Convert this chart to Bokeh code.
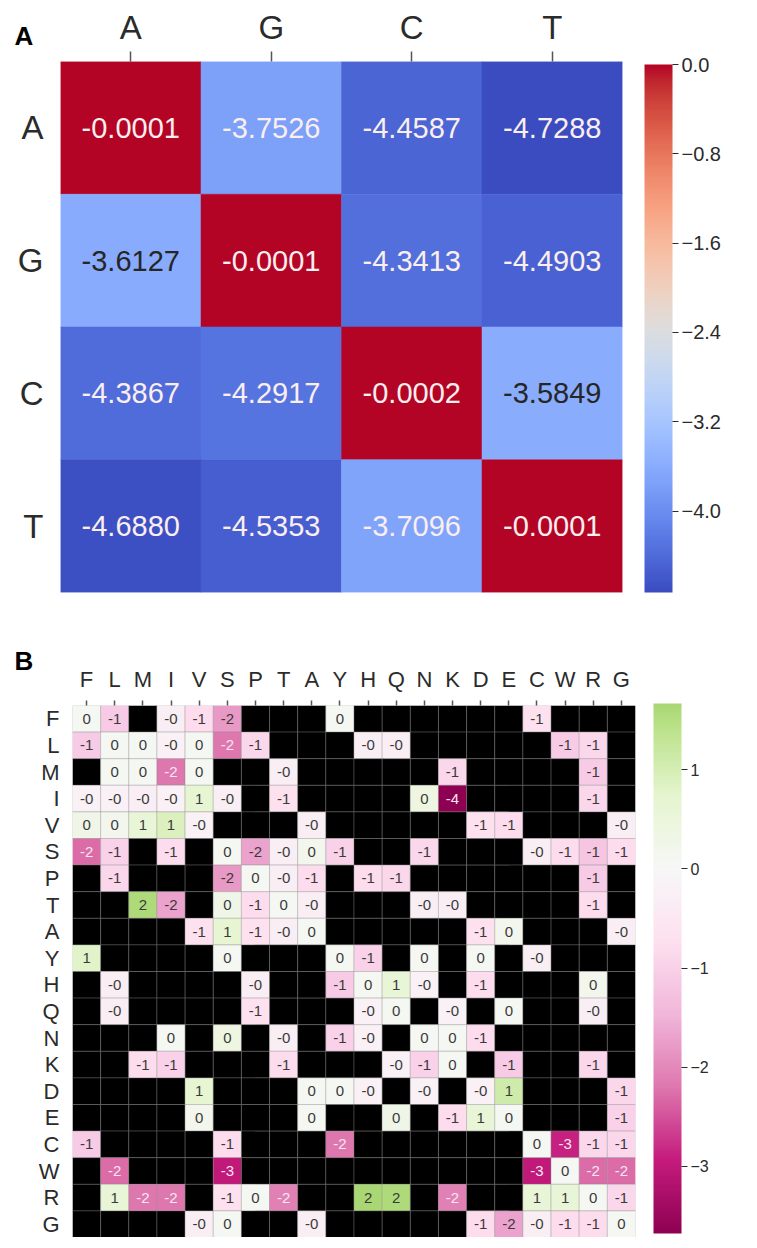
import numpy as np
from bokeh.plotting import figure
from bokeh.models import (ColumnDataSource, FactorRange, LinearColorMapper, ColorBar,
                          FixedTicker, CustomJSTickFormatter, Label, AllLabels)
from bokeh.transform import transform
from bokeh.embed import file_html
from bokeh.resources import INLINE
from bokeh.core.properties import value

# ---------------- data ----------------
nuc = ["A", "G", "C", "T"]
nuc_values = [
    [-0.0001, -3.7526, -4.4587, -4.7288],
    [-3.6127, -0.0001, -4.3413, -4.4903],
    [-4.3867, -4.2917, -0.0002, -3.5849],
    [-4.6880, -4.5353, -3.7096, -0.0001],
]
nuc_ticks = [0.0, -0.8, -1.6, -2.4, -3.2, -4.0]

aa = ["F", "L", "M", "I", "V", "S", "P", "T", "A", "Y",
      "H", "Q", "N", "K", "D", "E", "C", "W", "R", "G"]
N = np.nan
aa_values = [
    [0.1, -1.1, N, -0.3, -0.8, -1.8, N, N, N, 0.1, N, N, N, N, N, N, -0.7, N, N, N],          # F
    [-1.1, 0.1, 0.1, -0.2, 0.1, -2.2, -0.9, N, N, N, -0.3, -0.3, N, N, N, N, N, -1.1, -0.9, N],  # L
    [N, 0.1, 0.1, -2.2, 0.1, N, N, -0.3, N, N, N, N, N, -0.9, N, N, N, N, -1.1, N],          # M
    [-0.2, -0.2, -0.3, -0.2, 0.7, -0.3, N, -0.7, N, N, N, N, 0.4, -3.68, N, N, N, N, -0.9, N],  # I
    [0.3, 0.2, 0.6, 0.9, -0.2, N, N, N, -0.3, N, N, N, N, N, -0.7, -0.8, N, N, N, -0.3],    # V
    [-2.3, -1.0, N, -0.8, N, 0.1, -1.7, -0.3, 0.2, -1.0, N, N, -0.9, N, N, N, -0.3, -0.8, -1.2, -0.8],  # S
    [N, -0.9, N, N, N, -1.8, 0.1, -0.3, -0.8, N, -0.8, -0.9, N, N, N, N, N, N, -1.1, N],    # P
    [N, N, 1.6, -1.7, N, 0.3, -0.8, 0.1, -0.3, N, N, N, -0.3, -0.3, N, N, N, N, -0.8, N],   # T
    [N, N, N, N, -0.7, 0.7, -0.7, -0.3, 0.1, N, N, N, N, N, -0.7, 0.2, N, N, N, -0.3],     # A
    [0.8, N, N, N, N, 0.1, N, N, N, 0.1, -1.0, N, 0.1, N, 0.1, N, -0.3, N, N, N],          # Y
    [N, -0.3, N, N, N, N, -0.3, N, N, -1.1, 0.1, 0.6, -0.2, N, -0.8, N, N, N, 0.2, N],     # H
    [N, -0.3, N, N, N, N, -0.7, N, N, N, -0.2, 0.1, N, -0.2, N, 0.1, N, N, -0.3, N],       # Q
    [N, N, N, 0.1, N, 0.4, N, -0.3, N, -1.0, -0.2, N, 0.1, 0.1, -0.8, N, N, N, N, N],      # N
    [N, N, -0.8, -1.0, N, N, N, -0.8, N, N, N, -0.2, -1.0, 0.1, N, -1.1, N, N, -0.9, N],   # K
    [N, N, N, N, 0.7, N, N, N, 0.1, 0.1, -0.2, N, -0.2, N, -0.2, 1.1, N, N, N, -0.9],      # D
    [N, N, N, N, 0.2, N, N, N, 0.1, N, N, 0.3, N, -0.8, 0.6, 0.1, N, N, N, -1.0],          # E
    [-1.1, N, N, N, N, -0.8, N, N, N, -2.2, N, N, N, N, N, N, 0.1, -2.9, -0.9, -0.9],      # C
    [N, -2.3, N, N, N, -3.0, N, N, N, N, N, N, N, N, N, N, -3.0, 0.1, -2.3, -2.3],         # W
    [N, 0.6, -2.2, -2.2, N, -0.7, 0.1, -2.1, N, N, 1.67, 1.6, N, -2.1, N, N, 0.6, 0.6, 0.1, -0.9],  # R
    [N, N, N, N, -0.3, 0.1, N, N, -0.3, N, N, N, N, N, -0.8, -1.7, -0.3, -0.8, -0.8, 0.1],  # G
]
aa_ticks = [1, 0, -1, -2, -3]

FONT = "Liberation Sans"
TXT = "#2b2b2b"


# ---------------- colour maps ----------------
def hexcol(rgb):
    return "#%02x%02x%02x" % tuple(int(round(c)) for c in rgb)


def interp_palette(anchors, positions):
    anchors = np.array(anchors, dtype=float)
    xs = np.linspace(0, 1, len(anchors))
    return [hexcol([np.interp(t, xs, anchors[:, k]) for k in range(3)]) for t in positions]


coolwarm_anchors = [
    (59, 76, 192), (68, 90, 204), (77, 104, 215), (87, 117, 225), (98, 130, 234),
    (108, 142, 241), (119, 154, 247), (130, 165, 251), (141, 176, 254), (152, 185, 255),
    (163, 194, 255), (174, 201, 253), (184, 208, 249), (194, 213, 244), (204, 217, 238),
    (213, 219, 230), (221, 221, 221), (229, 216, 209), (236, 211, 197), (241, 204, 184),
    (245, 196, 172), (247, 187, 159), (247, 177, 147), (247, 166, 134), (244, 154, 123),
    (241, 141, 111), (236, 127, 99), (229, 112, 88), (222, 96, 77), (213, 80, 66),
    (203, 62, 56), (192, 40, 47), (180, 4, 38)]
piyg_anchors = [
    (142, 1, 82), (197, 27, 125), (222, 119, 174), (241, 182, 218), (253, 224, 239),
    (247, 247, 247), (230, 245, 208), (184, 225, 134), (127, 188, 65), (77, 146, 33),
    (39, 100, 25)]

nuc_low, nuc_high = -4.7288, 0.0
coolwarm = interp_palette(coolwarm_anchors, np.linspace(0, 1, 256))

aa_low, aa_high = -3.68, 1.67
half = max(aa_high, -aa_low)
piyg = interp_palette(piyg_anchors,
                      np.linspace(0.5 + aa_low / (2 * half), 0.5 + aa_high / (2 * half), 256))

# ---------------- panel A ----------------
HA = 622
xs, ys, vs, labs, tcs = [], [], [], [], []
for i, r in enumerate(nuc):
    for j, c in enumerate(nuc):
        v = nuc_values[i][j]
        xs.append(c); ys.append(r); vs.append(v)
        labs.append("%.4f" % v)
        tcs.append("#fbeeee" if (v < -3.7 or v > -1.0) else "#262626")
srcA = ColumnDataSource(dict(x=xs, y=ys, v=vs, lab=labs, tc=tcs))
mapA = LinearColorMapper(palette=coolwarm, low=nuc_low, high=nuc_high)

pA = figure(x_range=FactorRange(*nuc), y_range=FactorRange(*nuc[::-1]),
            frame_width=562, frame_height=531, x_axis_location="above",
            output_backend="svg", toolbar_location=None,
            min_border_left=60, min_border_top=61, min_border_bottom=HA - 61 - 531,
            min_border_right=120)
pA.rect("x", "y", width=1, height=1, source=srcA,
        fill_color=transform("v", mapA), line_color=transform("v", mapA), line_width=0.5)
pA.text("x", "y", text="lab", source=srcA, text_color="tc", text_align="center",
        text_baseline="middle", text_font=value(FONT), text_font_size="29px")

cbA = ColorBar(color_mapper=mapA, width=28, height=528, location=(22, 0), margin=0, padding=0,
               ticker=FixedTicker(ticks=nuc_ticks),
               formatter=CustomJSTickFormatter(code="return (tick < -1e-9 ? '\u2212' : '') + Math.abs(tick).toFixed(1);"),
               major_label_policy=AllLabels(),
               major_tick_out=6, major_tick_in=0, major_tick_line_color=TXT,
               major_label_text_font=FONT, major_label_text_font_size="20px",
               major_label_text_color=TXT, label_standoff=3,
               bar_line_color=None, border_line_color=None, background_fill_alpha=0)
pA.add_layout(cbA, "right")

# ---------------- panel B ----------------
HB = 615
xs, ys, vs, labs, tcs = [], [], [], [], []
for i, r in enumerate(aa):
    for j, c in enumerate(aa):
        v = aa_values[i][j]
        xs.append(c); ys.append(r); vs.append(v)
        if np.isnan(v):
            labs.append(""); tcs.append(TXT)
        else:
            labs.append("%.0f" % v)
            tcs.append("#f6e8f0" if v < -2.0 else "#3a3a3a")
srcB = ColumnDataSource(dict(x=xs, y=ys, v=np.array(vs, dtype=float), lab=labs, tc=tcs))
mapB = LinearColorMapper(palette=piyg, low=aa_low, high=aa_high, nan_color="black")

pB = figure(x_range=FactorRange(*aa), y_range=FactorRange(*aa[::-1]),
            frame_width=563, frame_height=532, x_axis_location="above",
            output_backend="svg", toolbar_location=None,
            min_border_left=72, min_border_top=HB - 532, min_border_bottom=0,
            min_border_right=100)
pB.rect("x", "y", width=1, height=1, source=srcB,
        fill_color=transform("v", mapB), line_color="#8a8a8a", line_alpha=0.35, line_width=1)
pB.text("x", "y", text="lab", source=srcB, text_color="tc", text_align="center",
        text_baseline="middle", text_font=value(FONT), text_font_size="15px")

cbB = ColorBar(color_mapper=mapB, width=28, height=530, location=(18, 4), margin=0, padding=0,
               ticker=FixedTicker(ticks=aa_ticks),
               formatter=CustomJSTickFormatter(code="return (tick < 0 ? '\u2212' : '') + Math.abs(tick).toFixed(0);"),
               major_label_policy=AllLabels(),
               major_tick_out=6, major_tick_in=0, major_tick_line_color=TXT,
               major_label_text_font=FONT, major_label_text_font_size="16px",
               major_label_text_color=TXT, label_standoff=3,
               bar_line_color=None, border_line_color=None, background_fill_alpha=0)
pB.add_layout(cbB, "right")

# ---------------- common styling ----------------
for p, fs, tick_out, standoff_x, standoff_y in ((pA, "33px", 10, 6, 17), (pB, "22px", 5, 9, 13)):
    p.grid.visible = False
    p.outline_line_color = None
    for ax in (p.xaxis[0], p.yaxis[0]):
        ax.axis_line_color = None
        ax.minor_tick_line_color = None
        ax.major_label_text_font = FONT
        ax.major_label_text_font_size = fs
        ax.major_label_text_color = TXT
        ax.major_tick_in = 0
    p.xaxis.major_tick_out = tick_out
    p.xaxis.major_tick_line_color = "#555555"
    p.xaxis.major_tick_line_width = 1.5
    p.xaxis.major_label_standoff = standoff_x
    p.yaxis.major_tick_out = 0
    p.yaxis.major_tick_line_color = None
    p.yaxis.major_label_standoff = standoff_y

# panel letters, placed in side panels so they are not clipped to the frame
pA.add_layout(Label(x=-46, y=587, x_units="screen", y_units="screen", text="A",
                    text_font=FONT, text_font_size="26px", text_font_style="bold",
                    text_color="black", text_baseline="middle"), "below")
pB.add_layout(Label(x=-2, y=577, x_units="screen", y_units="screen", text="B",
                    text_font=FONT, text_font_size="26px", text_font_style="bold",
                    text_color="black", text_baseline="middle"), "left")

open("out.html", "w").write(file_html([pA, pB], INLINE))
